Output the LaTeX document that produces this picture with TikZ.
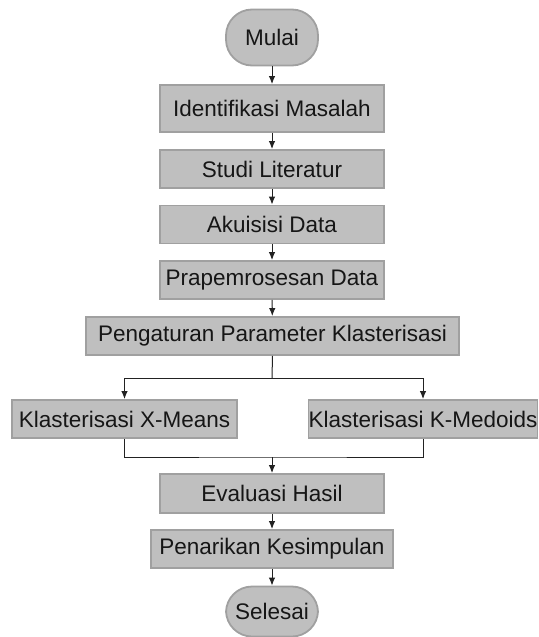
\documentclass[tikz,border=0pt]{standalone}
\usepackage{fontspec}
\setmainfont{Liberation Sans}
\usetikzlibrary{arrows.meta}
\definecolor{kotak}{HTML}{BFBFBF}
\definecolor{tepi}{HTML}{A0A0A0}
\definecolor{teks}{HTML}{161616}
\definecolor{garis}{HTML}{222222}

\begin{document}
\begin{tikzpicture}[x=0.5pt,y=-0.5pt]
          \tikzstyle{every node}=[font=\fontsize{11.25}{13}\selectfont,text=teks,inner sep=0pt]
          \tikzstyle{proses}=[draw=tepi,fill=kotak,line width=0.9pt,minimum width=112pt,minimum height=19pt]
          \tikzstyle{terminal}=[proses,rounded corners=13pt,minimum width=46pt,minimum height=28pt]
          \tikzstyle{alur}=[-{Latex[length=4pt,width=3.2pt]},color=garis,line width=0.5pt]
          \useasboundingbox (0,0) rectangle (538,637);
          \node[terminal] (mulai) at (272,37.5) {Mulai};
          \node[proses,minimum height=23.5pt] (ident) at (272,108.5) {Identifikasi Masalah};
          \node[proses] (studi) at (272,169) {Studi Literatur};
          \node[proses] (akuisisi) at (272,224.5) {Akuisisi Data};
          \node[proses] (prapros) at (272,280) {Prapemrosesan Data};
          \node[proses,minimum width=186.5pt] (atur) at (272.5,336) {Pengaturan Parameter Klasterisasi};
          \node[proses,minimum width=112.5pt] (xmeans) at (124.5,419) {Klasterisasi X-Means};
          \node[proses,minimum width=114pt] (kmedoids) at (423,419) {Klasterisasi K-Medoids};
          \node[proses,minimum height=19.5pt] (eval) at (272,493.5) {Evaluasi Hasil};
          \node[proses,minimum width=121pt] (tarik) at (272,549) {Penarikan Kesimpulan};
          \node[terminal,minimum height=25pt] (selesai) at (272,611.5) {Selesai};
          \coordinate (cabang) at (272,378);
          \coordinate (gabung) at (272,457);
          \draw[alur] (mulai) -- (ident);
          \draw[alur] (ident) -- (studi);
          \draw[alur] (studi) -- (akuisisi);
          \draw[alur] (akuisisi) -- (prapros);
          \draw[alur] (prapros) -- (atur);
          \draw[color=garis,line width=0.5pt] (atur.south) -- (cabang);
          \draw[alur] (cabang) -| (xmeans.north);
          \draw[alur] (cabang) -| (kmedoids.north);
          \draw[color=garis,line width=0.5pt] (xmeans.south) |- (gabung) -| (kmedoids.south);
          \draw[alur] (gabung) -- (eval);
          \draw[alur] (eval) -- (tarik);
          \draw[alur] (tarik) -- (selesai);
        \end{tikzpicture}
\end{document}
